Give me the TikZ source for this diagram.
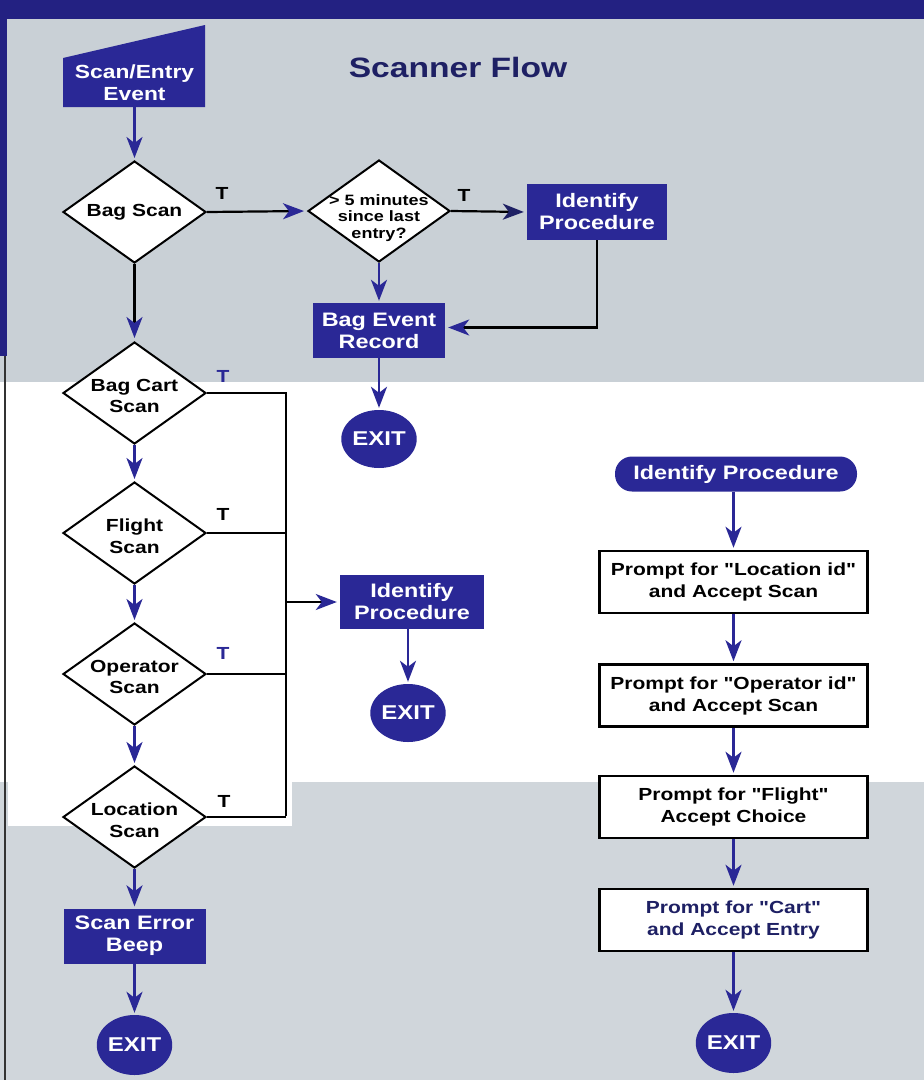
\documentclass[tikz,border=0pt]{standalone}
\usepackage{fontspec}
\setmainfont{Liberation Sans}[FakeStretch=1.2, Ligatures=TeXOff]
\usetikzlibrary{shapes.geometric,arrows.meta}
\definecolor{fblue}{RGB}{42,40,150}
\definecolor{navy}{RGB}{30,32,100}
\definecolor{bggrey}{RGB}{201,208,214}
\definecolor{bgtwo}{RGB}{208,214,219}
\definecolor{band}{RGB}{35,33,130}
\newcommand{\fsz}[2]{\fontsize{#1}{#2}\selectfont\bfseries}
\tikzset{
  bluebox/.style={rectangle, fill=fblue, text=white, font=\fsz{19.5}{22}, align=center, inner sep=0pt},
  dia/.style={diamond, draw=black, line width=2pt, fill=white, inner sep=0pt, minimum width=143pt, minimum height=102pt},
  dtext/.style={font=\fsz{17.5}{21.5}, align=center, inner sep=0pt, text=black},
  dlab/.style={label={[dtext, yshift=-3pt]center:#1}},
  exitnode/.style={ellipse, fill=fblue, text=white, font=\fsz{20}{22}, minimum width=72pt, minimum height=58pt, inner sep=0pt},
  promptbox/.style={rectangle, draw=black, line width=2.5pt, fill=white, font=\fsz{17.5}{22}, minimum width=268pt, minimum height=62pt, align=center, inner sep=0pt},
  tlabel/.style={font=\fsz{17.5}{20}, inner sep=0pt},
  flow/.style={draw=fblue, line width=2.5pt, shorten >=2pt, -{Stealth[length=21pt,width=16pt,inset=6pt]}},
  blk/.style={draw=black, line width=2.2pt},
  blkarr/.style={draw=black, line width=2.2pt, shorten >=3pt, -{Stealth[length=21pt,width=16pt,inset=6pt,color=fblue]}},
}
\begin{document}
\begin{tikzpicture}[x=1pt,y=-1pt]
\useasboundingbox (0,0) rectangle (924,1080);
% background
\fill[bggrey] (0,0) rectangle (924,382);
\fill[bgtwo] (0,782) rectangle (924,1080);
\fill[white] (8,382) rectangle (924,782);
\fill[white] (8,782) rectangle (292,826);
\fill[band] (0,0) rectangle (924,19);
\fill[band] (0,0) rectangle (7,356);
\draw[black!80, line width=1.2pt] (5,356) -- (5,1080);

% title
\node[text=navy, font=\fsz{28}{32}] (title) at (458,67) {Scanner Flow};

% start (manual input shape)
\fill[fblue] (63,58) -- (205,25) -- (205,107) -- (63,107) -- cycle;
\node[text=white, font=\fsz{19}{22}, align=center, minimum width=142pt, minimum height=49pt, inner sep=0pt] (scan) at (134.5,82.5) {Scan/Entry\\Event};

% top row
\node[dia, label={[dtext]center:Bag Scan}] (bagscan) at (134.5,212) {};
\node[dia, minimum width=142pt, label={[dtext, font=\fsz{15}{16.5}, yshift=-7pt]center:> 5 minutes\\since last\\entry?}] (five) at (379,211) {};
\node[bluebox, minimum width=140pt, minimum height=56pt] (ident1) at (597,212) {Identify\\Procedure};
\node[bluebox, minimum width=132pt, minimum height=55pt] (bagevent) at (379,330.5) {Bag Event\\Record};
\node[exitnode] (exit1) at (379,439) {EXIT};

% left column
\node[dia, dlab={Bag Cart\\Scan}] (bagcart) at (134.5,393) {};
\node[dia, dlab={Flight\\Scan}] (flight) at (134.5,533) {};
\node[dia, dlab={Operator\\Scan}] (operator) at (134.5,674) {};
\node[dia, dlab={Location\\Scan}] (location) at (134.5,817) {};
\node[bluebox, minimum width=142pt, minimum height=55pt] (scanerr) at (134.5,936) {Scan Error\\Beep};
\node[exitnode, minimum height=60pt] (exit3) at (134.5,1045) {EXIT};

% middle
\node[bluebox, minimum width=144pt, minimum height=54pt] (ident2) at (412,602) {Identify\\Procedure};
\node[exitnode] (exit2) at (408,713) {EXIT};

% right column
\node[bluebox, rounded corners=17pt, minimum width=242pt, minimum height=35pt] (identR) at (736,474) {Identify Procedure};
\node[promptbox] (p1) at (733.5,582) {Prompt for "Location id"\\and Accept Scan};
\node[promptbox] (p2) at (733.5,695.5) {Prompt for "Operator id"\\and Accept Scan};
\node[promptbox] (p3) at (733.5,807) {Prompt for "Flight"\\Accept Choice};
\node[promptbox, text=navy] (p4) at (733.5,920) {Prompt for "Cart"\\and Accept Entry};
\node[exitnode, minimum height=60pt] (exitR) at (733.5,1043) {EXIT};

% T labels
\node[tlabel] (tA) at (222,193) {T};
\node[tlabel] (tB) at (464,195) {T};
\node[tlabel, text=fblue] (tC) at (223,376) {T};
\node[tlabel] (tD) at (223,514) {T};
\node[tlabel, text=fblue] (tE) at (223,653) {T};
\node[tlabel] (tF) at (224,801) {T};

% connectors
\draw[flow] (scan.south) -- (bagscan.north);
\draw[blkarr] (bagscan.east) -- (five.west);
\draw[blkarr, -{Stealth[length=21pt,width=16pt,inset=6pt,color=navy]}] (five.east) -- (ident1.west);
\draw[flow] (five.south) -- (bagevent.north);
\draw[blkarr] (ident1.south) |- ([yshift=3pt]bagevent.east);
\draw[flow] (bagevent.south) -- (exit1.north);

\draw[blkarr] (bagscan.south) -- (bagcart.north);
\draw[flow] (bagcart.south) -- (flight.north);
\draw[flow] (flight.south) -- (operator.north);
\draw[flow] (operator.south) -- (location.north);
\draw[flow] (location.south) -- (scanerr.north);
\draw[flow] (scanerr.south) -- (exit3.north);

\coordinate (busTop) at (286,392);
\coordinate (busBot) at (286,816);
\draw[blk] (bagcart.east) -- (bagcart.east -| busTop);
\draw[blk] (flight.east) -- (flight.east -| busTop);
\draw[blk] (operator.east) -- (operator.east -| busTop);
\draw[blk] (location.east) -- (location.east -| busTop);
\draw[blk] (busTop) -- (busBot);
\draw[blkarr] (busTop |- ident2.west) -- (ident2.west);
\draw[flow] (ident2.south -| exit2.north) -- (exit2.north);

\draw[flow] (identR.south -| p1.north) -- (p1.north);
\draw[flow] (p1.south) -- (p2.north);
\draw[flow] (p2.south) -- (p3.north);
\draw[flow] (p3.south) -- (p4.north);
\draw[flow] (p4.south) -- (exitR.north);
\end{tikzpicture}
\end{document}
